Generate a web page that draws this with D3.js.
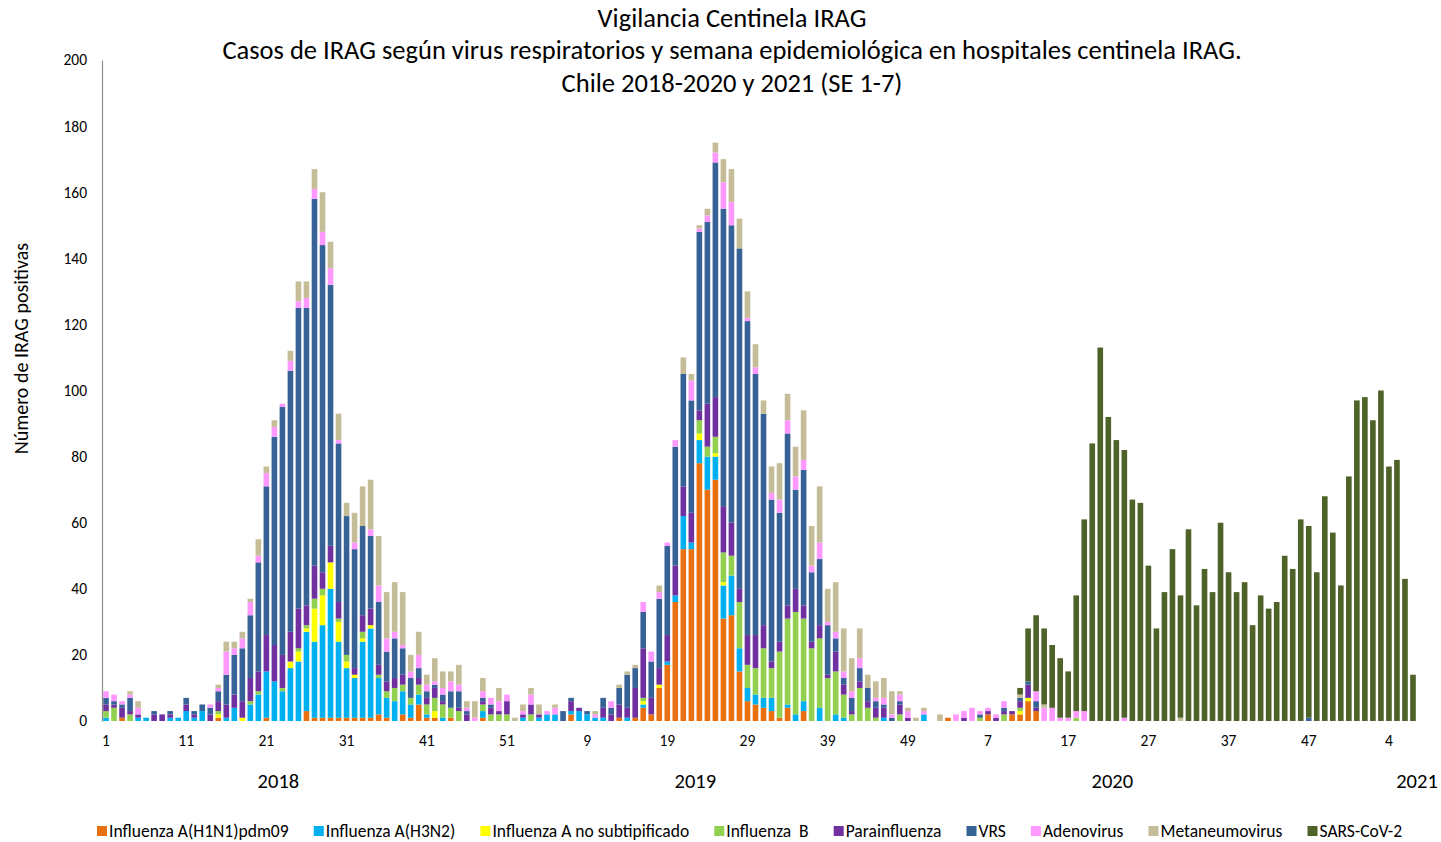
<!DOCTYPE html>
<html>
<head>
<meta charset="utf-8">
<script src="https://cdn.jsdelivr.net/npm/d3@7"></script>
<style>
  body { margin: 0; background: #fff; }
  text { font-family: Carlito, Calibri, 'Liberation Sans Narrow', 'Liberation Sans', sans-serif; fill: #000; }
  #legend text { white-space: pre; }
</style>
</head>
<body>
<script>
// Years and number of epidemiological weeks shown for each
var years = ["2018", "2019", "2020", "2021"];
var weeksPerYear = [52, 52, 53, 7];

// Cases per week, one array per virus (2018 w1..52, 2019 w1..52, 2020 w1..53, 2021 w1..7)
var h1n1 = [
  0,0,1,0,0,0,0,0,0,0, 0,0,0,0,1,0,0,0,0,0, 1,0,0,0,0,3,1,1,1,1, 1,1,1,1,2,1,0,2,1,5, 1,1,0,1,0,0,0,1,0,0, 0,0,
  0,0,0,0,0,0,2,0,0,0, 0,0,1,0,1,4,2,10,17,36, 52,52,78,70,73,31,32,15,6,5, 4,3,1,4,0,3,0,0,0,0, 0,0,0,0,0,0,0,0,0,0, 0,0,
  0,1,0,0,0,0,2,0,0,2, 2,6,3,0,0,0,0,0,0,0, 0,0,0,0,0,0,0,0,0,0, 0,0,0,0,0,0,0,0,0,0, 0,0,0,0,0,0,0,0,0,0, 0,0,0,
  0,0,0,0,0,0,0
];
var h3n2 = [
  1,0,0,0,1,1,0,0,1,1, 3,1,3,0,0,1,4,0,5,8, 14,12,9,16,18,24,23,28,39,23, 15,12,23,27,11,6,6,7,4,3, 1,0,1,0,0,0,0,2,0,0, 0,0,
  1,0,1,2,2,0,1,3,2,1, 1,0,0,1,0,1,0,0,1,2, 10,2,7,10,7,10,12,7,4,3, 3,4,0,1,2,3,0,4,0,2, 1,0,0,0,0,1,0,0,0,0, 2,0,
  0,0,0,0,0,0,0,0,0,0, 0,0,0,0,0,0,0,0,0,0, 0,0,0,0,0,0,0,0,0,0, 0,0,0,0,0,0,0,0,0,0, 0,0,0,0,0,0,0,0,0,0, 0,0,0,
  0,0,0,0,0,0,0
];
var fluAns = [
  0,0,0,0,0,0,0,0,0,0, 0,0,0,0,1,0,0,1,0,0, 0,0,0,2,3,1,10,9,8,6, 2,1,1,1,0,0,0,0,0,0, 0,2,0,0,0,0,0,0,0,0, 0,0,
  0,0,0,0,0,0,0,0,0,0, 0,0,0,0,0,1,0,1,0,0, 0,0,2,0,1,1,0,0,0,0, 0,0,0,0,0,0,0,0,0,0, 0,0,0,0,0,0,0,0,0,0, 0,0,
  0,0,0,0,0,0,0,0,0,0, 1,1,0,0,0,0,0,0,0,0, 0,0,0,0,0,0,0,0,0,0, 0,0,0,0,0,0,0,0,0,0, 0,0,0,0,0,0,0,0,0,0, 0,0,0,
  0,0,0,0,0,0,0
];
var fluB = [
  2,4,0,2,0,0,0,0,0,0, 0,0,0,0,1,0,0,0,1,1, 0,0,1,0,1,1,3,2,0,1, 2,0,2,0,1,2,4,2,2,3, 3,4,4,3,3,0,0,2,2,2, 2,0,
  0,2,0,0,0,0,0,0,0,0, 0,0,0,0,0,1,0,0,0,0, 0,0,4,3,5,9,6,14,7,8, 15,9,20,26,31,25,22,21,13,13, 7,2,10,4,1,0,0,2,0,0, 0,0,
  0,0,0,0,0,1,0,0,2,0, 1,0,0,0,0,0,0,1,0,0, 0,0,0,0,0,0,0,0,0,0, 0,0,0,0,0,0,0,0,0,0, 0,0,0,0,0,0,0,0,0,0, 0,0,0,
  0,0,0,0,0,0,0
];
var parainfluenza = [
  2,1,3,1,1,0,2,2,1,0, 2,1,0,2,3,4,4,5,7,6, 11,11,10,9,12,6,10,5,5,5, 0,2,5,5,3,3,3,3,0,2, 2,3,1,0,1,2,0,1,2,1, 4,0,
  1,3,1,0,0,0,3,1,0,0, 3,2,4,3,9,15,5,5,8,9, 9,9,3,13,12,14,10,4,9,10, 7,2,3,4,7,4,2,4,1,6, 3,1,2,2,3,3,0,3,1,0, 0,0,
  0,0,0,1,0,0,1,1,1,1, 2,4,1,0,0,0,0,0,0,0, 0,0,0,0,0,0,0,0,0,0, 0,0,0,0,0,0,0,0,0,0, 0,0,0,0,0,0,0,0,0,0, 0,0,0,
  0,0,0,0,0,0,0
];
var vrs = [
  2,1,1,4,0,0,1,0,1,0, 2,1,2,2,3,9,12,16,19,33, 45,63,75,79,91,90,111,99,79,48, 42,36,27,22,19,9,12,8,6,3, 2,1,2,5,5,1,0,1,1,0, 0,0,
  0,0,0,0,0,3,1,0,1,0, 3,2,5,10,6,11,11,21,27,36, 34,34,54,55,71,90,90,103,95,79, 64,49,39,52,30,41,21,20,15,4, 2,4,4,4,2,1,1,1,0,0, 0,0,
  0,0,0,0,0,1,0,0,1,0, 1,1,2,0,0,0,0,0,0,0, 0,0,0,0,0,0,0,0,0,0, 0,0,0,0,0,0,0,0,0,0, 0,0,0,0,0,0,1,0,0,0, 0,0,0,
  0,0,0,0,0,0,0
];
var adenovirus = [
  2,2,1,1,2,0,0,0,0,0, 0,0,0,1,1,7,2,3,4,2, 4,3,1,3,2,3,3,4,5,1, 0,2,0,2,5,4,2,1,2,4, 2,1,2,3,2,1,1,2,2,3, 2,0,
  1,3,0,1,2,0,0,0,0,1, 0,2,0,0,0,3,3,2,1,2, 0,6,1,2,3,8,7,0,1,2, 0,2,4,4,4,3,2,5,1,2, 2,2,3,0,1,2,1,2,2,0, 1,0,
  0,0,2,2,4,1,1,1,2,0, 0,0,3,4,4,1,1,2,3,0, 0,0,0,1,0,0,0,0,0,0, 0,0,0,0,0,0,0,0,0,0, 0,0,0,0,0,0,0,0,0,0, 0,0,0,
  0,0,0,0,0,0,0
];
var metaneumovirus = [
  0,0,0,1,2,0,0,0,0,0, 0,0,0,0,1,3,2,2,1,5, 2,2,0,3,6,5,6,12,8,8, 4,9,12,15,15,14,15,16,5,7, 3,7,5,3,6,2,5,4,0,4, 0,1,
  2,2,3,0,1,0,0,0,0,1, 0,0,1,1,1,0,0,2,0,0, 5,2,1,2,3,7,10,9,8,7, 4,8,11,8,9,15,12,17,10,15, 13,10,9,4,5,6,7,1,1,1, 1,0,
  2,0,0,0,0,0,0,0,0,0, 1,0,0,1,0,0,0,0,0,0, 0,0,0,0,0,0,0,0,0,0, 1,0,0,0,0,0,0,0,0,0, 0,0,0,0,0,0,0,0,0,0, 0,0,0,
  0,0,0,0,0,0,0
];
var sarsCov2 = [
  0,0,0,0,0,0,0,0,0,0, 0,0,0,0,0,0,0,0,0,0, 0,0,0,0,0,0,0,0,0,0, 0,0,0,0,0,0,0,0,0,0, 0,0,0,0,0,0,0,0,0,0, 0,0,
  0,0,0,0,0,0,0,0,0,0, 0,0,0,0,0,0,0,0,0,0, 0,0,0,0,0,0,0,0,0,0, 0,0,0,0,0,0,0,0,0,0, 0,0,0,0,0,0,0,0,0,0, 0,0,
  0,0,0,0,0,0,0,0,0,0, 2,16,23,23,19,18,14,35,58,84, 113,92,85,81,67,66,47,28,39,52, 37,58,35,46,39,60,45,39,42,29, 38,34,36,50,46,61,58,45,68,57, 41,74,97,
  98,91,100,77,79,43,14
];

var seriesNames = ["Influenza A(H1N1)pdm09", "Influenza A(H3N2)", "Influenza A no subtipificado",
  "Influenza  B", "Parainfluenza", "VRS", "Adenovirus", "Metaneumovirus", "SARS-CoV-2"];
var seriesColors = ["#E8700E", "#00B0F0", "#FFFF00", "#92D050", "#7030A0", "#376296", "#FF99FF", "#C4BD97", "#4F6228"];
var seriesValues = [h1n1, h3n2, fluAns, fluB, parainfluenza, vrs, adenovirus, metaneumovirus, sarsCov2];

var yTicks = [0, 20, 40, 60, 80, 100, 120, 140, 160, 180, 200];
var titleLines = ["Vigilancia Centinela IRAG",
  "Casos de IRAG según virus respiratorios y semana epidemiológica en hospitales centinela IRAG.",
  "Chile 2018-2020 y 2021 (SE 1-7)"];
var yTitle = "Número de IRAG positivas";

// Build the week categories
var weeks = [];
years.forEach(function(yr, k) {
  for (var w = 1; w <= weeksPerYear[k]; w++) weeks.push({year: yr, week: w});
});

var width = 1441, height = 842;
var margin = {top: 60, right: 24, bottom: 121, left: 102};

var svg = d3.select(document.body).append("svg")
  .attr("width", width).attr("height", height);

var x = d3.scaleBand()
  .domain(d3.range(weeks.length))
  .range([margin.left, width - margin.right])
  .paddingInner(0.3)
  .paddingOuter(0.15);

var y = d3.scaleLinear()
  .domain([0, 200])
  .range([height - margin.bottom, margin.top]);

// Table for the stack layout
var table = weeks.map(function(d, i) {
  var row = {i: i};
  seriesValues.forEach(function(vals, k) { row[k] = vals[i]; });
  return row;
});
var stacked = d3.stack().keys(d3.range(seriesNames.length))(table);

// Bars
svg.append("g").attr("id", "bars")
  .selectAll("g")
  .data(stacked)
  .enter().append("g")
    .attr("fill", function(d) { return seriesColors[d.key]; })
  .selectAll("rect")
  .data(function(d) { return d.filter(function(p) { return p[1] > p[0]; }); })
  .enter().append("rect")
    .attr("x", function(d) { return x(d.data.i); })
    .attr("width", x.bandwidth())
    .attr("y", function(d) { return y(d[1]); })
    .attr("height", function(d) { return y(d[0]) - y(d[1]); });

// Y axis (line + labels, no ticks)
var yAxis = svg.append("g")
  .attr("transform", "translate(" + margin.left + ",0)")
  .call(d3.axisLeft(y).tickValues(yTicks).tickSize(0).tickPadding(15));
yAxis.select(".domain").attr("stroke", "#8c8c8c").attr("stroke-width", 1.2);
yAxis.selectAll("text").attr("font-size", 15.5).style("font-family", null);

// X axis: week numbers every 10 bars
var xAxis = svg.append("g")
  .attr("transform", "translate(0," + (height - margin.bottom) + ")")
  .call(d3.axisBottom(x)
    .tickValues(d3.range(0, weeks.length, 10))
    .tickFormat(function(i) { return weeks[i].week; })
    .tickSize(0).tickPadding(14));
xAxis.select(".domain").remove();
xAxis.selectAll("text").attr("font-size", 15.5).style("font-family", null);

// Year labels
var start = 0;
years.forEach(function(yr, k) {
  var pos = x(start) - x.step() * x.paddingInner() / 2 + Math.min(22, weeksPerYear[k]) * x.step();
  svg.append("text")
    .attr("x", pos)
    .attr("y", 788)
    .attr("text-anchor", "middle")
    .attr("font-size", 20.5)
    .text(yr);
  start += weeksPerYear[k];
});

// Helper that squeezes a text when the fallback font is wider than the original
function fitText(sel, target) {
  var w = sel.node().getComputedTextLength();
  if (w > target) sel.attr("textLength", target).attr("lengthAdjust", "spacingAndGlyphs");
}

// Title
var titleY = [27, 59, 92];
var titleW = [270, 1022, 342];
titleLines.forEach(function(t, k) {
  var tt = svg.append("text")
    .attr("x", 732)
    .attr("y", titleY[k])
    .attr("text-anchor", "middle")
    .attr("font-size", 26.5)
    .text(t);
  fitText(tt, titleW[k]);
});

// Y axis title
var yt = svg.append("text")
  .attr("transform", "translate(28," + (margin.top + (height - margin.bottom - margin.top) / 2 - 42) + ") rotate(-90)")
  .attr("text-anchor", "middle")
  .attr("font-size", 20)
  .text(yTitle);
fitText(yt, 218);

// Legend, spread between the two ends of the reference legend
var legend = svg.append("g").attr("id", "legend");
var items = seriesNames.map(function(name, k) {
  var g = legend.append("g");
  g.append("rect").attr("y", -1).attr("width", 10).attr("height", 10).attr("fill", seriesColors[k]);
  var t = g.append("text").attr("x", 12).attr("y", 10).attr("font-size", 17.5).text(name);
  return {g: g, w: 12 + t.node().getComputedTextLength()};
});
var totalW = d3.sum(items, function(d) { return d.w; });
var gap = Math.max(8, (1402 - 97 - totalW) / (items.length - 1));
var lx = 97;
items.forEach(function(d) {
  d.g.attr("transform", "translate(" + lx + ",827)");
  lx += d.w + gap;
});
</script>
</body>
</html>
